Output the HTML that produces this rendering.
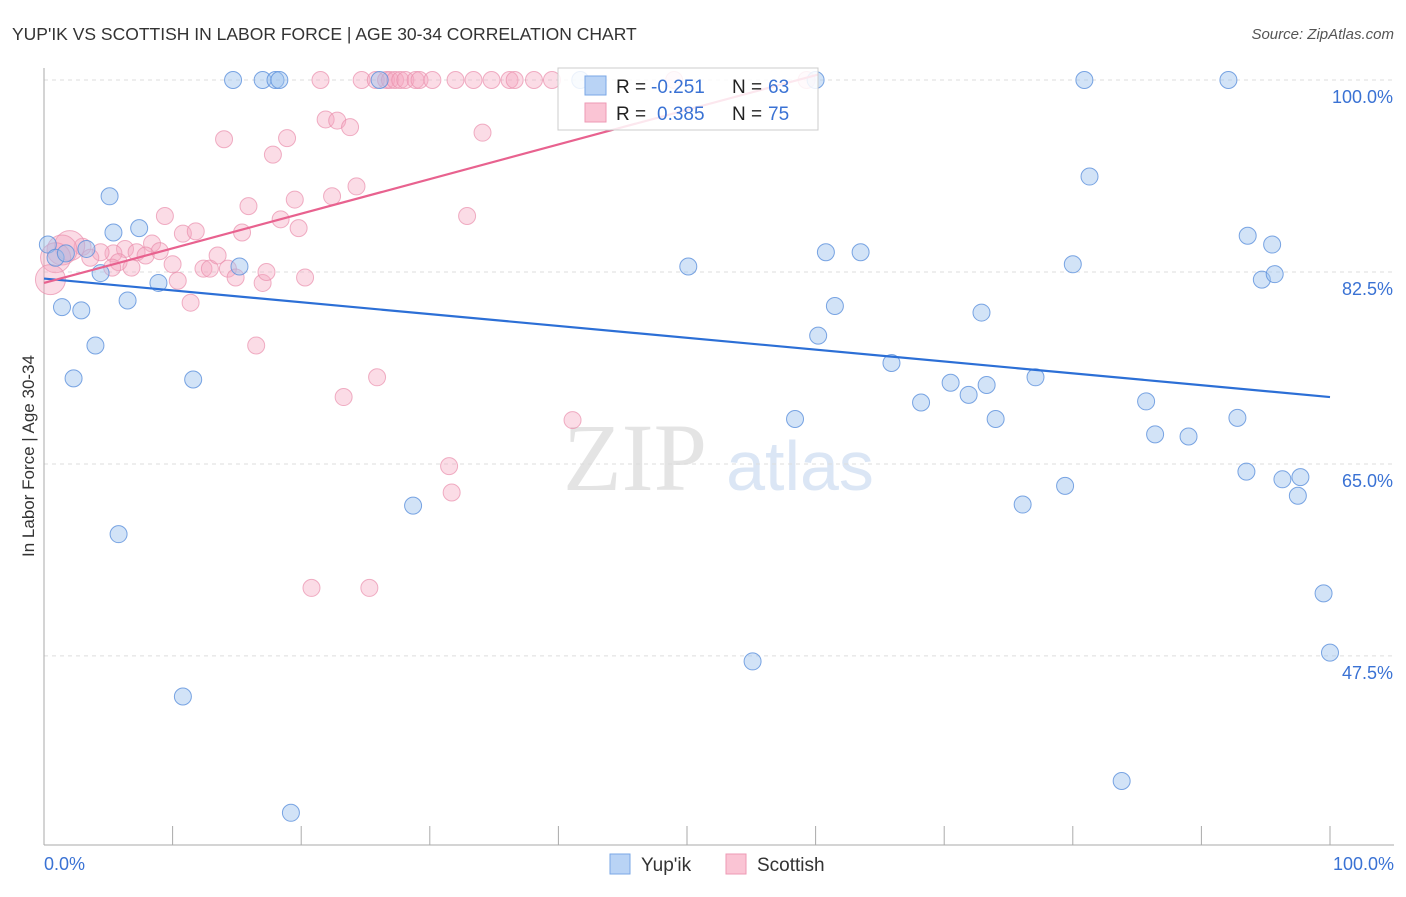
<!DOCTYPE html>
<html><head><meta charset="utf-8"><style>
body{margin:0;background:#fff;font-family:"Liberation Sans",sans-serif}
</style></head><body>
<svg id="c" width="1406" height="892" xmlns="http://www.w3.org/2000/svg" style="font-family:'Liberation Sans',sans-serif">
<text x="12" y="40" font-size="17.5" fill="#333">YUP'IK VS SCOTTISH IN LABOR FORCE | AGE 30-34 CORRELATION CHART</text>
<text x="1394" y="39" font-size="15" fill="#555" text-anchor="end" font-style="italic">Source: ZipAtlas.com</text>
<text x="34" y="456" font-size="17" fill="#333" text-anchor="middle" transform="rotate(-90 34 456)">In Labor Force | Age 30-34</text>
<g><text x="635" y="490" font-size="96" fill="#e4e4e4" font-family="Liberation Serif,serif" text-anchor="middle">ZIP</text><text x="800" y="490" font-size="70" fill="#dbe6f5" text-anchor="middle">atlas</text></g>
<g id="grid"></g><g id="marks"></g><g id="lines"></g>
<g>
<rect x="558" y="68" width="260" height="62" fill="#fff" fill-opacity="0.85" stroke="#ccc"/>
<rect x="585" y="76" width="21" height="19" fill="#b9d3f5" stroke="#7aa7e6"/>
<rect x="585" y="103" width="21" height="19" fill="#fac4d4" stroke="#ee9ab4"/>
<text x="616" y="93" font-size="19" fill="#222">R =</text><text x="651" y="93" font-size="19" fill="#3a72d4">-0.251</text>
<text x="732" y="93" font-size="19" fill="#222">N =</text><text x="768" y="93" font-size="19" fill="#3a72d4">63</text>
<text x="616" y="120" font-size="19" fill="#222">R =</text><text x="657" y="120" font-size="19" fill="#3a72d4">0.385</text>
<text x="732" y="120" font-size="19" fill="#222">N =</text><text x="768" y="120" font-size="19" fill="#3a72d4">75</text>
</g>
<g>
<rect x="610" y="854" width="20" height="20" fill="#b9d3f5" stroke="#7aa7e6"/><text x="641" y="871" font-size="19" fill="#333">Yup'ik</text>
<rect x="726" y="854" width="20" height="20" fill="#fac4d4" stroke="#ee9ab4"/><text x="757" y="871" font-size="19" fill="#333">Scottish</text>
</g>
<text x="44" y="870" font-size="18" fill="#3a72d4">0.0%</text>
<text x="1394" y="870" font-size="18" fill="#3a72d4" text-anchor="end">100.0%</text>
</svg>
<script>
const yTicks=[100,82.5,65,47.5];
const yTickLabels=["100.0%","82.5%","65.0%","47.5%"];
const xTicks=[0,10,20,30,40,50,60,70,80,90,100];
const blueX=[14.7,17.0,18.0,18.3,26.1,41.7,60.0,80.9,92.1,5.1,81.3,5.4,7.4,0.3,0.9,1.7,3.3,4.4,6.5,8.9,15.2,1.4,2.9,4.0,2.3,11.6,5.8,10.8,19.2,28.7,50.1,60.8,63.5,61.5,60.2,58.4,65.9,68.2,70.5,71.9,73.3,72.9,74.0,77.1,80.0,79.4,76.1,85.7,86.4,89.0,92.8,93.6,95.5,94.7,95.7,93.5,96.3,97.7,97.5,99.5,100,55.1,83.8];
const blueY=[100,100,100,100,100,100,100,100,100,89.4,91.2,86.1,86.5,85.0,83.8,84.2,84.6,82.4,79.9,81.5,83.0,79.3,79.0,75.8,72.8,72.7,58.6,43.8,33.2,61.2,83.0,84.3,84.3,79.4,76.7,69.1,74.2,70.6,72.4,71.3,72.2,78.8,69.1,72.9,83.2,63.0,61.3,70.7,67.7,67.5,69.2,85.8,85.0,81.8,82.3,64.3,63.6,63.8,62.1,53.2,47.8,47.0,36.1];
const pinkX=[21.5,24.7,25.8,26.6,26.9,27.3,27.7,28.1,28.9,29.2,30.2,32.0,33.4,34.8,36.2,36.6,38.1,39.5,49.0,59.3,14.0,17.8,18.9,21.9,22.8,23.8,34.1,24.3,22.4,19.5,15.9,18.4,19.8,15.4,9.4,10.8,11.8,32.9,8.4,6.3,7.2,9.0,7.9,5.4,4.4,3.0,2.0,1.4,0.9,0.5,3.6,5.8,6.8,5.3,10.0,12.4,12.9,13.5,14.3,14.9,17.0,17.3,20.3,10.4,11.4,16.5,25.9,23.3,41.1,31.5,31.7,20.8,25.3];
const pinkY=[100,100,100,100,100,100,100,100,100,100,100,100,100,100,100,100,100,100,100,100,94.6,93.2,94.7,96.4,96.3,95.7,95.2,90.3,89.4,89.1,88.5,87.3,86.5,86.1,87.6,86.0,86.2,87.6,85.1,84.6,84.3,84.4,84.0,84.2,84.3,84.8,84.9,84.5,83.8,81.8,83.8,83.4,82.9,82.9,83.2,82.8,82.8,84.0,82.8,82.0,81.5,82.5,82.0,81.7,79.7,75.8,72.9,71.1,69.0,64.8,62.4,53.7,53.7];
const pinkBig=[46,47,48,49];
const blueTrend=[81.9,71.1];
const pinkTrend=[81.5,100.5];
const pinkTrendEndX=60.2;
const NS="http://www.w3.org/2000/svg";
const X=v=>44+v*12.86, Y=v=>80+(100-v)*10.97;
function mk(t,a,p){const e=document.createElementNS(NS,t);for(const k in a)e.setAttribute(k,a[k]);p.appendChild(e);return e;}
const g=document.getElementById('grid'),m=document.getElementById('marks'),l=document.getElementById('lines');
yTicks.forEach((t,i)=>{const ln=mk('line',{x1:44,x2:1394,y1:Y(t),y2:Y(t),stroke:'#ddd','stroke-dasharray':'4,4'},g);


const tx=mk('text',{x:1393,y:Y(t)+23,'font-size':18,fill:'#3a72d4','text-anchor':'end'},g);tx.textContent=yTickLabels[i];

});
const ax=mk('line',{x1:44,x2:44,y1:68,y2:845,stroke:'#aaa'},g);


const bx=mk('line',{x1:44,x2:1394,y1:845,y2:845,stroke:'#aaa'},g);


xTicks.forEach(t=>{const tk=mk('line',{x1:X(t),x2:X(t),y1:826,y2:845,stroke:'#aaa'},g);

});
pinkX.forEach((v,i)=>{const c=mk('circle',{cx:X(v),cy:Y(pinkY[i]),r:pinkBig.includes(i)?15:8.5,fill:'#f6a8c0','fill-opacity':0.4,stroke:'#ea8fad','stroke-opacity':0.7},m);

});
blueX.forEach((v,i)=>{const c=mk('circle',{cx:X(v),cy:Y(blueY[i]),r:8.5,fill:'#9cc0ee','fill-opacity':0.45,stroke:'#5b90dc','stroke-opacity':0.8},m);

});
const bl=mk('line',{x1:X(0),y1:Y(blueTrend[0]),x2:X(100),y2:Y(blueTrend[1]),stroke:'#2c6fd6','stroke-width':2.2},l);


const pl=mk('line',{x1:X(0),y1:Y(pinkTrend[0]),x2:X(pinkTrendEndX),y2:Y(pinkTrend[1]),stroke:'#e8628f','stroke-width':2.2},l);


</script>
</body></html>
